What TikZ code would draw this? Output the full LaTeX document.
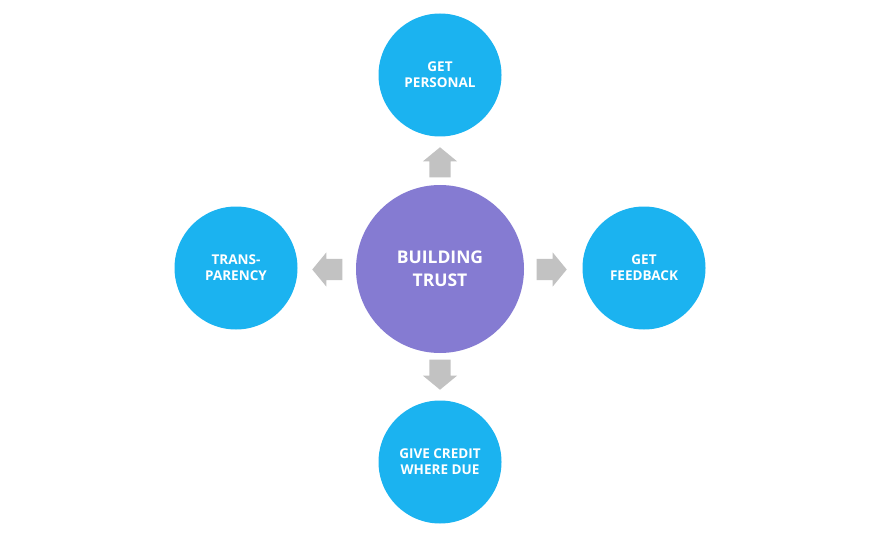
\documentclass[tikz,border=0pt]{standalone}
\usepackage{fontspec}
\setmainfont{Open Sans}
\usetikzlibrary{shapes.arrows}
\definecolor{skyblue}{HTML}{1BB3F0}
\definecolor{lavender}{HTML}{857BD2}
\definecolor{arrowgray}{HTML}{C2C2C2}
\tikzset{
  every picture/.style={line join=round, line cap=round},
  topic/.style={circle, fill=skyblue, minimum size=123pt, inner sep=0pt, text=white, align=center,
    font=\bfseries\fontsize{13.5}{15.7}\selectfont},
  hub/.style={circle, fill=lavender, minimum size=168pt, inner sep=0pt, text=white, align=center,
    font=\bfseries\fontsize{17.5}{22.7}\selectfont},
  blockarrow/.style={single arrow, fill=arrowgray, minimum height=30pt, minimum width=34pt,
    inner xsep=0pt, inner ysep=10.5pt, single arrow head extend=6.5pt, single arrow tip angle=101,
    anchor=tip},
}

\begin{document}
\begin{tikzpicture}[x=1pt,y=-1pt]
\useasboundingbox (0,0) rectangle (880,540);
% centre and the four topics
\node[hub] (trust) at (440,269) {BUILDING\\TRUST};
\node[topic] (personal) at (440,75) {GET\\PERSONAL};
\node[topic] (transparency) at (236,268) {TRANS-\\PARENCY};
\node[topic] (feedback) at (644,268) {GET\\FEEDBACK};
\node[topic] (credit) at (440,462) {GIVE CREDIT\\WHERE DUE};
% block arrows, placed by their tips
\node[blockarrow, rotate=90] (toup) at (440,147) {};
\node[blockarrow, rotate=180] (toleft) at (312,269.5) {};
\node[blockarrow] (toright) at (567,269.5) {};
\node[blockarrow, rotate=270] (todown) at (440,390) {};
\end{tikzpicture}
\end{document}
